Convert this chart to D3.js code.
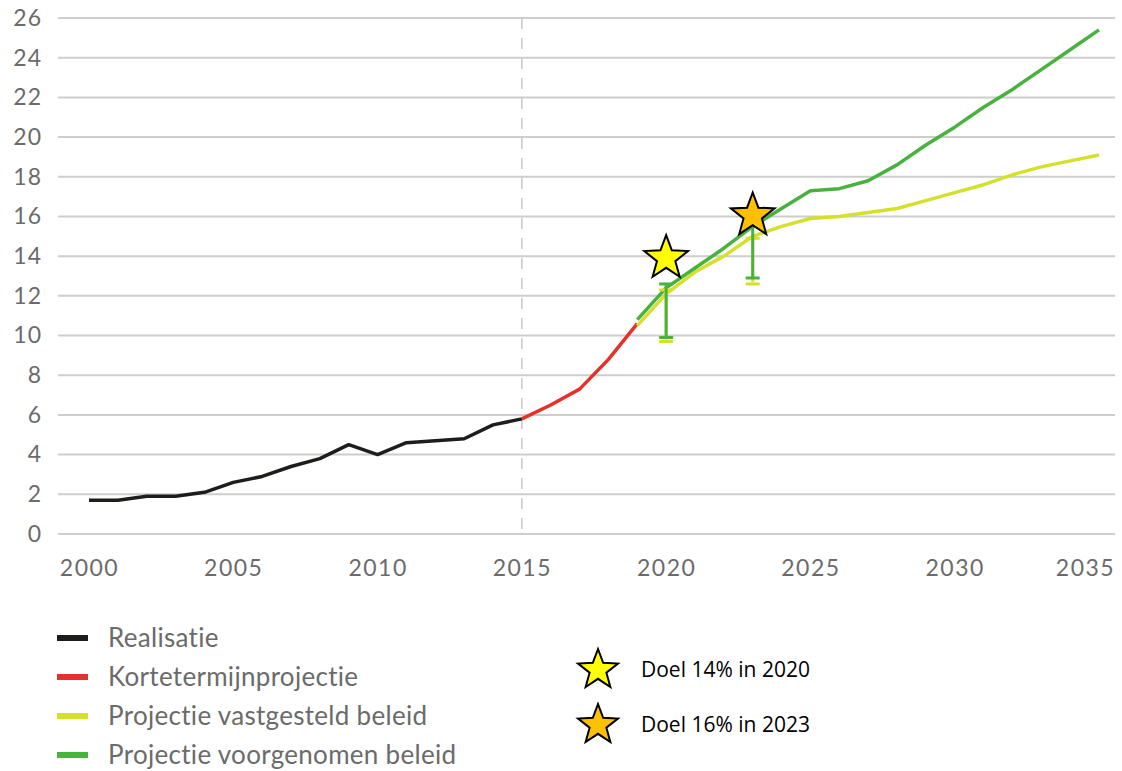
<!DOCTYPE html>
<html>
<head>
<meta charset="utf-8">
<script src="https://cdn.jsdelivr.net/npm/d3@7"></script>
<style>
  body { margin: 0; background: #fff; }
  svg { display: block; }
</style>
</head>
<body>
<svg id="chart"></svg>
<script>
const WIDTH = 1122;
const HEIGHT = 771;

// data
const realYears = [2000, 2001, 2002, 2003, 2004, 2005, 2006, 2007, 2008, 2009, 2010, 2011, 2012, 2013, 2014, 2015];
const realValues = [1.7, 1.7, 1.9, 1.9, 2.1, 2.6, 2.9, 3.4, 3.8, 4.5, 4.0, 4.6, 4.7, 4.8, 5.5, 5.8];

const shortYears = [2015, 2016, 2017, 2018, 2019];
const shortValues = [5.8, 6.5, 7.3, 8.8, 10.6];

const projYears = [2019, 2020, 2021, 2022, 2023, 2024, 2025, 2026, 2027, 2028, 2029, 2030, 2031, 2032, 2033, 2034, 2035];
const fixedValues = [10.5, 12.1, 13.2, 14.0, 15.0, 15.5, 15.9, 16.0, 16.2, 16.4, 16.8, 17.2, 17.6, 18.1, 18.5, 18.8, 19.1];
const plannedValues = [10.8, 12.4, 13.4, 14.4, 15.5, 16.4, 17.3, 17.4, 17.8, 18.6, 19.6, 20.5, 21.5, 22.4, 23.4, 24.4, 25.4];

// error bars: [year, low, high]
const fixedRange = [[2020, 9.8, 12.4], [2023, 12.7, 15.0]];
const plannedRange = [[2020, 9.9, 12.6], [2023, 12.9, 15.5]];

const targets = [
  { year: 2020, value: 14.05, fill: "#ffff00", label: "Doel 14% in 2020" },
  { year: 2023, value: 16.2, fill: "#ffc000", label: "Doel 16% in 2023" },
];

const yTicks = [0, 2, 4, 6, 8, 10, 12, 14, 16, 18, 20, 22, 24, 26];
const xTicks = [2000, 2005, 2010, 2015, 2020, 2025, 2030, 2035];

const seriesNames = ["Realisatie", "Kortetermijnprojectie", "Projectie vastgesteld beleid", "Projectie voorgenomen beleid"];
const seriesColors = ["#1d1d1b", "#e8302a", "#d5e02c", "#48b23f"];

const GRID_LEFT = 58;
const GRID_RIGHT = 1115;
const AXIS_FONT = "Lato, 'Open Sans', sans-serif";

const svg = d3.select("#chart").attr("width", WIDTH).attr("height", HEIGHT);

const x = d3.scaleLinear().domain([2000, 2035]).range([89, 1099]);
const y = d3.scaleLinear().domain([0, 26]).range([534, 18]);

// grid
svg.append("g")
  .selectAll("line")
  .data(yTicks)
  .join("line")
  .attr("x1", GRID_LEFT)
  .attr("x2", GRID_RIGHT)
  .attr("y1", (d) => y(d))
  .attr("y2", (d) => y(d))
  .attr("stroke", "#cdcdcd")
  .attr("stroke-width", 2);

// y axis labels
const axisY = d3.axisLeft(y).tickValues(yTicks).tickSize(0).tickPadding(0);
svg.append("g")
  .attr("transform", "translate(42,0)")
  .call(axisY)
  .call((g) => g.select(".domain").remove())
  .selectAll("text")
  .attr("fill", "#6b6b6b")
  .style("font-family", AXIS_FONT)
  .style("font-size", "23px")
  .style("letter-spacing", "1px");

// x axis labels
const axisX = d3.axisBottom(x).tickValues(xTicks).tickFormat(d3.format("d")).tickSize(0).tickPadding(0);
svg.append("g")
  .attr("transform", "translate(0,560)")
  .call(axisX)
  .call((g) => g.select(".domain").remove())
  .selectAll("text")
  .attr("fill", "#6b6b6b")
  .attr("dx", (d) => (d === 2035 ? -14 : 0))
  .style("font-family", AXIS_FONT)
  .style("font-size", "23px")
  .style("letter-spacing", "1.5px");

// dashed 2015 marker
svg.append("line")
  .attr("x1", x(2015))
  .attr("x2", x(2015))
  .attr("y1", y(26))
  .attr("y2", y(0))
  .attr("stroke", "#c8c8c8")
  .attr("stroke-width", 1.5)
  .attr("stroke-dasharray", "11,9");

const lineF = d3.line().x((d) => x(d[0])).y((d) => y(d[1]));

const drawSeries = (years, values, color) => {
  svg.append("path")
    .datum(years.map((yr, i) => [yr, values[i]]))
    .attr("d", lineF)
    .attr("fill", "none")
    .attr("stroke", color)
    .attr("stroke-width", 3.5)
    .attr("stroke-linejoin", "round");
};

const drawRange = (ranges, color, capShift) => {
  const g = svg.append("g").attr("stroke", color).attr("stroke-width", 3);
  ranges.forEach(([yr, lo, hi]) => {
    g.append("line")
      .attr("x1", x(yr)).attr("x2", x(yr))
      .attr("y1", y(lo)).attr("y2", y(hi));
    [lo, hi].forEach((v) => {
      g.append("line")
        .attr("x1", x(yr) - 7).attr("x2", x(yr) + 7)
        .attr("y1", y(v) + capShift).attr("y2", y(v) + capShift);
    });
  });
};

drawSeries(realYears, realValues, seriesColors[0]);
drawSeries(shortYears, shortValues, seriesColors[1]);
drawSeries(projYears, fixedValues, seriesColors[2]);
drawSeries(projYears, plannedValues, seriesColors[3]);
drawRange(fixedRange, seriesColors[2], 2);
drawRange(plannedRange, seriesColors[3], 0);

const starPath = (r) => {
  const pts = [];
  for (let i = 0; i < 10; i++) {
    const rad = i % 2 === 0 ? r : r * 0.42;
    const a = -Math.PI / 2 + (i * Math.PI) / 5;
    pts.push([rad * Math.cos(a), rad * Math.sin(a)]);
  }
  return d3.line()(pts) + "Z";
};

svg.append("g")
  .selectAll("path")
  .data(targets)
  .join("path")
  .attr("d", starPath(23))
  .attr("transform", (d) => `translate(${x(d.year)},${y(d.value) + 3})`)
  .attr("fill", (d) => d.fill)
  .attr("stroke", "#000")
  .attr("stroke-width", 2)
  .attr("stroke-linejoin", "miter");

// legend
const legend = svg.append("g").attr("transform", "translate(57,638)");
seriesNames.forEach((name, i) => {
  const row = legend.append("g").attr("transform", `translate(0,${i * 39})`);
  row.append("line")
    .attr("x1", 0).attr("x2", 31)
    .attr("stroke", seriesColors[i])
    .attr("stroke-width", 6);
  row.append("text")
    .attr("x", 51)
    .attr("y", 0)
    .attr("dy", "0.35em")
    .attr("fill", "#6b6b6b")
    .style("font-family", AXIS_FONT)
    .style("font-size", "26px")
    .style("letter-spacing", "0.3px")
    .text(name);
});

const starLegend = svg.append("g").attr("transform", "translate(598,668)");
targets.forEach((t, i) => {
  const row = starLegend.append("g").attr("transform", `translate(0,${i * 55})`);
  row.append("path")
    .attr("d", starPath(21))
    .attr("transform", "translate(0,2)")
    .attr("fill", t.fill)
    .attr("stroke", "#000")
    .attr("stroke-width", 2);
  row.append("text")
    .attr("x", 43)
    .attr("y", 2)
    .attr("dy", "0.35em")
    .attr("fill", "#000")
    .style("font-family", "'Open Sans', sans-serif")
    .style("font-size", "21px")
    .text(t.label);
});
</script>
</body>
</html>
